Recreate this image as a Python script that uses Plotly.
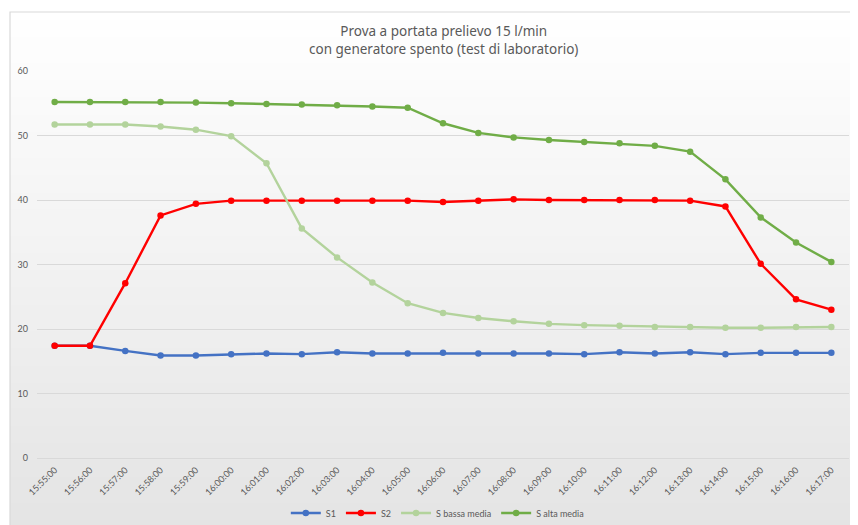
import plotly.graph_objects as go

times = ["15:55:00", "15:56:00", "15:57:00", "15:58:00", "15:59:00", "16:00:00",
         "16:01:00", "16:02:00", "16:03:00", "16:04:00", "16:05:00", "16:06:00",
         "16:07:00", "16:08:00", "16:09:00", "16:10:00", "16:11:00", "16:12:00",
         "16:13:00", "16:14:00", "16:15:00", "16:16:00", "16:17:00"]

s1 = [17.4, 17.4, 16.6, 15.9, 15.9, 16.1, 16.2, 16.1, 16.4, 16.2, 16.2, 16.3,
      16.2, 16.2, 16.2, 16.1, 16.4, 16.2, 16.4, 16.1, 16.3, 16.3, 16.3]
s2 = [17.4, 17.4, 27.1, 37.6, 39.4, 39.9, 39.9, 39.9, 39.9, 39.9, 39.9, 39.7,
      39.9, 40.1, 40.0, 40.0, 40.0, 40.0, 39.9, 39.0, 30.1, 24.6, 23.0]
s_bassa = [51.7, 51.7, 51.7, 51.4, 50.9, 49.9, 45.7, 35.6, 31.1, 27.2, 24.0, 22.5,
           21.7, 21.2, 20.8, 20.6, 20.5, 20.3, 20.3, 20.2, 20.2, 20.3, 20.3]
s_alta = [55.2, 55.2, 55.2, 55.2, 55.1, 55.0, 54.9, 54.8, 54.7, 54.5, 54.3, 51.9,
          50.4, 49.7, 49.3, 49.0, 48.8, 48.4, 47.5, 43.2, 37.3, 33.4, 30.4]

title_text = "Prova a portata prelievo 15 l/min<br>con generatore spento (test di laboratorio)"

series = [
    ("S1", s1, "#4472C4"),
    ("S2", s2, "#FF0000"),
    ("S bassa media", s_bassa, "#B3D39C"),
    ("S alta media", s_alta, "#70AD47"),
]

FONT = "Lato, 'Noto Sans', sans-serif"
TFONT = "'Noto Sans', Lato, sans-serif"
TXT = "#595959"

fig = go.Figure()
for name, vals, col in series:
    fig.add_trace(go.Scatter(
        x=times, y=vals, name=name, mode="lines+markers",
        line=dict(color=col, width=2.4),
        marker=dict(color=col, size=6.5),
    ))

# page has an 8px body margin: figure pixel = page pixel - 8
OFF = 8
W, H = 858 - OFF, 525 - OFF
L, R, T, B = 37 - OFF, 9, 71 - OFF, 67
pw, ph = W - L - R, H - T - B

def px2paper_x(px):
    return (px - OFF - L) / pw

def px2paper_y(py):
    return (H - B - (py - OFF)) / ph

shapes = []
top_px, bot_px = 12, 530
n = 60
c_top, c_bot = (255, 255, 255), (228, 228, 228)
for i in range(n):
    y0 = top_px + (bot_px - top_px) * i / n
    y1 = top_px + (bot_px - top_px) * (i + 1) / n
    f = (i + 0.5) / n
    c = tuple(round(c_top[k] + (c_bot[k] - c_top[k]) * f) for k in range(3))
    shapes.append(dict(type="rect", xref="paper", yref="paper",
                       x0=px2paper_x(10), x1=px2paper_x(866),
                       y0=px2paper_y(y1), y1=px2paper_y(y0) + 0.002,
                       fillcolor="rgb(%d,%d,%d)" % c, line=dict(width=0),
                       layer="below"))
shapes.append(dict(type="rect", xref="paper", yref="paper",
                   x0=px2paper_x(10), x1=px2paper_x(880),
                   y0=px2paper_y(545), y1=px2paper_y(12),
                   line=dict(color="#D9D9D9", width=1.2), layer="below"))

annotations = [dict(text=title_text, xref="paper", yref="paper",
                    x=0.5, y=px2paper_y(39.5), xanchor="center", yanchor="middle",
                    showarrow=False, align="center",
                    font=dict(size=13.5, color=TXT, family=TFONT))]

fig.update_layout(
    width=W, height=H,
    margin=dict(l=L, r=R, t=T, b=B, autoexpand=False),
    paper_bgcolor="white",
    plot_bgcolor="rgba(0,0,0,0)",
    font=dict(family=FONT, color=TXT, size=9),
    shapes=shapes,
    annotations=annotations,
    showlegend=True,
    legend=dict(orientation="h", x=0.493, xanchor="center", xref="paper",
                y=px2paper_y(513), yanchor="middle", font=dict(size=9, color=TXT),
                bgcolor="rgba(0,0,0,0)", itemwidth=30, tracegroupgap=0),
    xaxis=dict(type="category", range=[-0.5, 22.5], tickangle=-45,
               showgrid=False, showline=False, zeroline=False, ticks="",
               ticklabelstandoff=4,
               automargin=False, tickfont=dict(size=9, color=TXT)),
    yaxis=dict(range=[0, 60], dtick=10, showgrid=True, gridcolor="#D9D9D9",
               gridwidth=1, zeroline=True, zerolinecolor="#D9D9D9", zerolinewidth=1.2,
               showline=False, ticks="", ticklabelstandoff=8, automargin=False,
               tickfont=dict(size=9, color=TXT)),
)

fig.write_html("out.html")
